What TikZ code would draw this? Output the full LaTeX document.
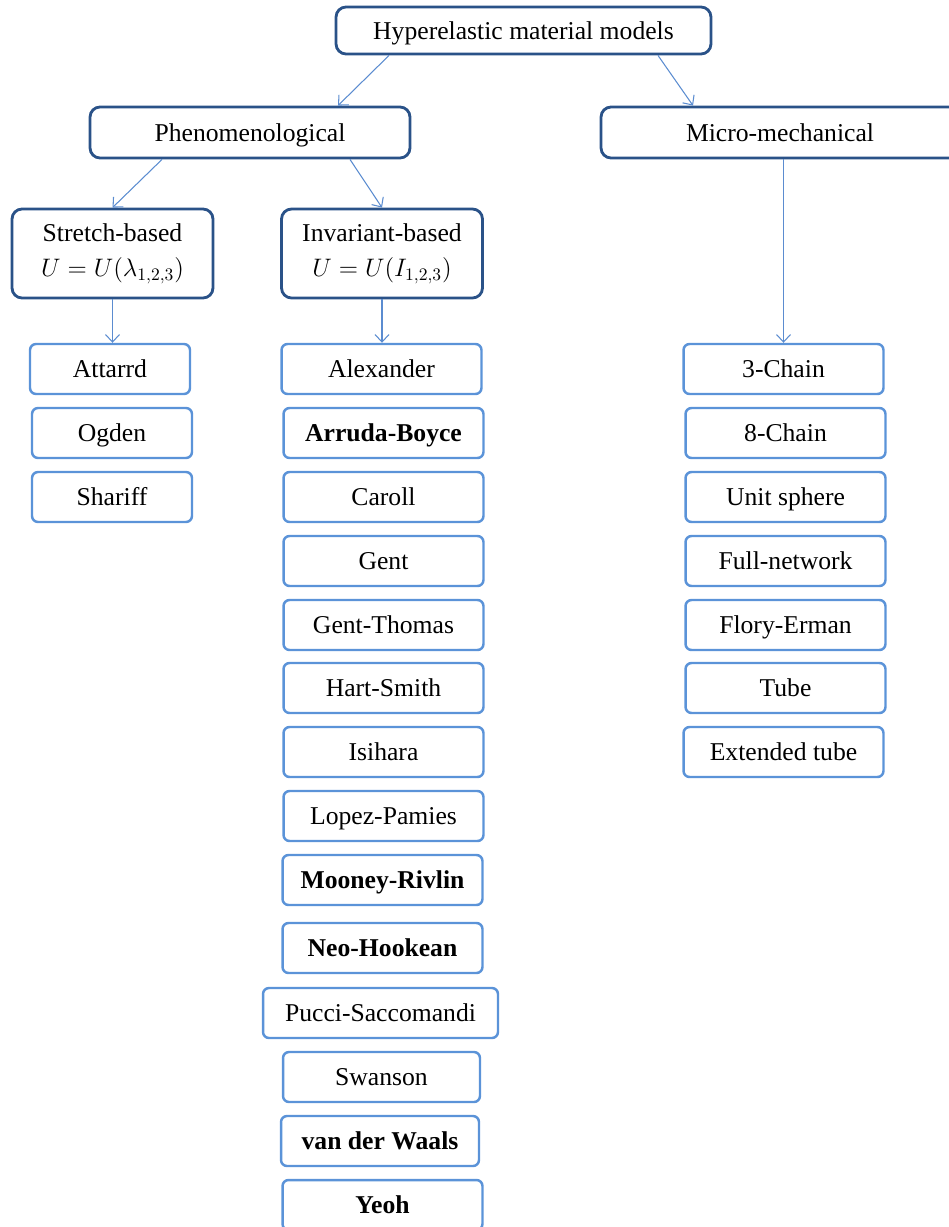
\documentclass[tikz,border=0pt]{standalone}
\usepackage{fontspec}
\setmainfont{Liberation Serif}
\usetikzlibrary{arrows.meta}
\definecolor{boxdark}{HTML}{2A5288}
\definecolor{boxlight}{HTML}{5B93D8}
\definecolor{arrowblue}{HTML}{5B8CD0}

\begin{document}
\begin{tikzpicture}[x=0.02cm, y=-0.02cm,
  every node/.style={font=\fontsize{14.6}{20}\selectfont, inner sep=0pt},
  headbox/.style={draw=boxdark, line width=1.6pt, rounded corners=0.2cm, fill=white, align=center},
  oneline/.style={text height=9.8pt, text depth=0pt},
  modelbox/.style={draw=boxlight, line width=1.4pt, rounded corners=0.12cm, minimum width=4cm, minimum height=1cm, oneline},
  link/.style={draw=arrowblue, line width=0.6pt, -{Straight Barb[length=1.5mm,width=2.8mm]}}]
\useasboundingbox (0,0) rectangle (948,1227); % page frame

% top levels
\node[headbox, oneline, minimum width=7.5cm, minimum height=0.94cm] (hyper) at (523.5,30.5) {Hyperelastic material models};
\node[headbox, oneline, minimum width=6.4cm, minimum height=1.02cm] (phen) at (250,132.5) {Phenomenological};
\node[headbox, oneline, minimum width=7.16cm, minimum height=1.02cm] (micro) at (780,132.5) {Micro-mechanical};
\node[headbox, minimum width=4.02cm, minimum height=1.78cm] (stretch) at (112.5,253.5) {Stretch-based\\$U=U\bigl(\lambda_{1,2,3}\bigr)$};
\node[headbox, minimum width=4.02cm, minimum height=1.78cm] (invar) at (382,253.5) {Invariant-based\\$U=U\bigl(I_{1,2,3}\bigr)$};

% stretch-based models
\node[modelbox, minimum width=3.2cm] (attarrd) at (110,369) {Attarrd};
\node[modelbox, minimum width=3.2cm] (ogden) at (112,433) {Ogden};
\node[modelbox, minimum width=3.2cm] (shariff) at (112,497) {Shariff};

% invariant-based models
\node[modelbox] (alex) at (381.5,369) {Alexander};
\node[modelbox] (arruda) at (383.5,433) {\bfseries Arruda-Boyce};
\node[modelbox] (caroll) at (383.5,497) {Caroll};
\node[modelbox] (gent) at (383.5,561) {Gent};
\node[modelbox] (gentth) at (383.5,625) {Gent-Thomas};
\node[modelbox] (hart) at (383.5,688) {Hart-Smith};
\node[modelbox] (isihara) at (383.5,752) {Isihara};
\node[modelbox] (lopez) at (383.5,816) {Lopez-Pamies};
\node[modelbox] (mooney) at (382.5,880) {\bfseries Mooney-Rivlin};
\node[modelbox] (neo) at (382.5,948) {\bfseries Neo-Hookean};
\node[modelbox, minimum width=4.7cm] (pucci) at (380.5,1013) {Pucci-Saccomandi};
\node[modelbox, minimum width=3.94cm] (swanson) at (381.5,1077) {Swanson};
\node[modelbox, minimum width=3.96cm] (waals) at (380,1141) {\bfseries van der Waals};
\node[modelbox] (yeoh) at (382.5,1205) {\bfseries Yeoh};

% micro-mechanical models
\node[modelbox] (chain3) at (783.5,369) {3-Chain};
\node[modelbox] (chain8) at (785.5,433) {8-Chain};
\node[modelbox] (unit) at (785.5,497) {Unit sphere};
\node[modelbox] (fullnet) at (785.5,561) {Full-network};
\node[modelbox] (flory) at (785.5,625) {Flory-Erman};
\node[modelbox] (tube) at (785.5,688) {Tube};
\node[modelbox] (exttube) at (783.5,752) {Extended tube};

% connectors
\draw[link] ([xshift=-2.69cm]hyper.south) -- ([xshift=1.76cm]phen.north); % to phenomenological
\draw[link] ([xshift=2.69cm]hyper.south) -- ([xshift=-1.74cm]micro.north); % to micro-mechanical
\draw[link] ([xshift=-1.76cm]phen.south) -- (stretch.north); % to stretch-based
\draw[link] ([xshift=2cm]phen.south) -- (invar.north); % to invariant-based
\draw[link] (stretch.south) -- (stretch.south |- attarrd.north); % down to list
\draw[link] (invar.south) -- (invar.south |- alex.north); % down to list
\draw[link] (micro.south -| chain3.north) -- (chain3.north); % down to list
\end{tikzpicture}
\end{document}
